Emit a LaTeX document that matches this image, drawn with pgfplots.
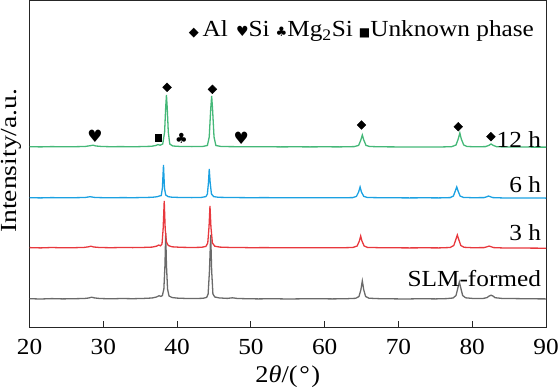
\documentclass[border=0pt]{standalone}
\usepackage{fontspec}
\setmainfont{Liberation Serif}[FakeStretch=1.1]
\newfontfamily\ylabfont{Liberation Serif}[FakeStretch=1.2]
\newfontfamily\symfont{DejaVu Sans}
\usepackage{pgfplots}
\pgfplotsset{compat=1.18}
\definecolor{cgreen}{HTML}{45B878}
\definecolor{cblue}{HTML}{1BA1E2}
\definecolor{cred}{HTML}{E8383D}
\definecolor{cgray}{HTML}{6A6A6A}
\newcommand{\lab}{\fontsize{23}{26}\selectfont}
\begin{document}
\begin{tikzpicture}
\begin{axis}[name=ax,
  width=516.4pt, height=326pt, scale only axis,
  xmin=20, xmax=90, ymin=0, ymax=326,
  xtick={20,30,...,90}, ytick=\empty,
  xtick pos=left, tick align=inside,
  major tick length=6pt,
  axis line style={black!85, line width=1pt},
  tick style={black!85, line width=1pt},
  /pgf/number format/assume math mode=true,
  ticklabel style={font=\lab},
  xticklabel style={yshift=-9pt},
  xlabel={2\textit{θ}/(\kern1.5pt°\kern1.5pt)},
  xlabel style={font=\fontsize{24}{26}\selectfont, at={(axis description cs:0.5,0)}, anchor=base, yshift=-55pt},
  ylabel={\ylabfont Intensity/a.u.},
  ylabel style={font=\lab, at={(axis description cs:-0.0252,0.51)}, anchor=base, inner sep=0pt},
  clip=false,
]
% SLM-formed
\addplot[cgray, line width=1.3pt] coordinates {
(20,28.3)(21.5,28.0)(23,28.4)(24.5,28.1)(26,28.3)(27.4,28.5)(28.0,29.0)(28.4,29.8)(28.8,29.1)(29.5,28.5)
(31,28.2)(32.5,28.5)(34,28.3)(35.5,28.6)(36.6,29.0)(37.2,30.0)(37.55,31.3)(37.8,30.6)(38.0,31.5)
(38.2,38)(38.35,62)(38.45,94)(38.55,62)(38.7,38)(38.9,31)(39.3,29.5)(40,28.9)(41,28.6)(42.5,28.5)
(43.5,28.7)(44.0,29.6)(44.2,33)(44.38,56)(44.55,92)(44.68,56)(44.85,33)(45.1,30.0)(45.7,29.1)(46.8,28.6)
(47.5,29.2)(48.2,28.5)(49.5,28.3)(51,28.1)(53,28.3)(55,28.0)(57,28.2)(59,28.3)(61,28.1)(63,28.3)
(64.2,28.7)(64.65,30.5)(64.9,37)(65.1,46)(65.3,37)(65.55,30.5)(66.0,28.8)(67.5,28.3)(69,28.2)(71,28.0)
(73,28.3)(75,28.1)(76.5,28.4)(77.4,29.0)(77.8,31.5)(78.05,39)(78.25,45)(78.45,39)(78.7,31.5)(79.1,29.2)
(80,28.6)(81.5,28.6)(82.0,29.4)(82.3,31)(82.55,31.8)(82.8,31)(83.1,29.3)(84,28.6)(86,28.4)(88,28.2)(90,28.1)
};
% 3 h
\addplot[cred, line width=1.3pt] coordinates {
(20,79.4)(21.5,79.1)(23,79.5)(24.5,79.2)(26,79.3)(27.4,79.6)(28.0,80.2)(28.3,80.8)(28.7,80.0)(29.5,79.5)
(31,79.3)(32.5,79.5)(34,79.4)(35.5,79.6)(36.6,79.9)(37.2,80.8)(37.5,82.0)(37.75,81.2)(37.95,83)
(38.1,98)(38.25,126)(38.38,98)(38.55,85)(38.8,81.5)(39.3,80.2)(40.5,79.7)(42,79.5)(43.3,79.7)(43.9,80.6)
(44.15,84)(44.32,100)(44.45,121)(44.58,100)(44.78,84)(45.1,80.8)(45.8,79.9)(47,79.6)(48.5,79.5)(50,79.3)
(52,79.4)(54,79.2)(56,79.3)(58,79.2)(60,79.3)(62,79.2)(63.8,79.5)(64.4,81.0)(64.7,86)(64.88,91)(65.05,86)
(65.35,81.0)(65.8,79.6)(67.5,79.3)(69.5,79.2)(71.5,79.1)(73.5,79.2)(75.5,79.1)(77.0,79.5)(77.5,81.5)
(77.8,88)(77.98,92)(78.15,88)(78.45,81.5)(78.9,79.7)(80,79.3)(81.6,79.4)(82.0,80.2)(82.28,80.9)(82.55,80.3)
(82.9,79.4)(84,79.1)(86,79.0)(88,78.9)(90,78.8)
};
% 6 h
\addplot[cblue, line width=1.3pt] coordinates {
(20,129.3)(21.5,129.1)(23,129.4)(24.5,129.2)(26,129.3)(27.5,129.5)(28.2,130.3)(28.8,129.6)(29.5,129.4)
(31,129.2)(32.5,129.4)(34,129.3)(35.5,129.5)(36.6,129.7)(37.3,130.3)(37.6,131.0)(37.85,131.5)(38.0,139)
(38.15,162)(38.28,139)(38.45,132)(38.8,130.3)(39.3,129.8)(40.5,129.5)(42,129.4)(43.3,129.6)(43.9,130.4)
(44.1,133)(44.25,145)(44.35,158)(44.47,145)(44.65,133)(44.95,130.4)(45.6,129.7)(47,129.5)(48.5,129.4)
(50,129.3)(52,129.4)(54,129.2)(56,129.3)(58,129.2)(60,129.3)(62,129.2)(63.8,129.4)(64.3,130.6)(64.6,135)
(64.8,140)(64.98,135)(65.3,130.6)(65.8,129.5)(67.5,129.3)(69.5,129.2)(71.5,129.1)(73.5,129.2)(75.5,129.1)
(77.0,129.4)(77.45,131)(77.7,136)(77.9,140)(78.08,136)(78.35,131)(78.8,129.6)(80,129.3)(81.6,129.4)
(82.0,130.3)(82.2,131)(82.45,130.3)(82.8,129.4)(84,129.1)(86,129.0)(88,129.0)(90,128.9)
};
% 12 h
\addplot[cgreen, line width=1.3pt] coordinates {
(20,180.3)(21.5,180.1)(23,180.4)(24.5,180.2)(26,180.3)(27.5,180.5)(28.2,181.3)(28.6,181.8)(29.0,181.0)
(29.8,180.5)(31,180.3)(32.5,180.4)(34,180.2)(35.5,180.5)(36.5,180.7)(37.1,181.5)(37.4,182.4)(37.7,181.8)
(38.05,183)(38.3,195)(38.45,220)(38.55,232)(38.65,220)(38.8,195)(39.0,183)(39.4,181.0)(40.5,180.5)
(42,180.4)(43.5,180.6)(44.1,181.5)(44.35,190)(44.55,218)(44.68,231)(44.8,218)(45.0,190)(45.25,181.5)
(45.9,180.6)(47,180.4)(48.5,180.3)(50,180.2)(52,180.3)(54,180.1)(56,180.2)(58,180.1)(60,180.2)(62,180.1)
(64.0,180.4)(64.6,181.6)(64.9,187)(65.1,192)(65.3,187)(65.6,181.6)(66.1,180.5)(67.5,180.2)(69.5,180.1)
(71.5,180.0)(73.5,180.1)(75.5,180.0)(77.2,180.3)(77.8,182)(78.1,188)(78.32,194)(78.52,188)(78.85,182)
(79.3,180.5)(80.5,180.2)(81.8,180.4)(82.25,181.6)(82.55,183)(82.85,181.6)(83.3,180.3)(84.5,180.0)
(86,180.0)(88,179.9)(90,179.9)
};
% phase markers
\addplot[only marks, mark=square*, mark options={rotate=45, fill=black, draw=black}, mark size=3.1pt]
 coordinates {(38.64,239.7)(44.78,237.7)(64.98,202)(78.1,200.3)(82.53,190.3)};
\addplot[only marks, mark=square*, mark options={fill=black, draw=black}, mark size=3.4pt]
 coordinates {(37.42,189.3)};
\addplot[only marks, mark=text, text mark={♥}, text mark as node=true,
  text mark style={font=\symfont\fontsize{17}{17}\selectfont, inner sep=0pt, anchor=center}]
 coordinates {(28.85,191)(48.7,188.7)};
\addplot[only marks, mark=text, text mark={♣}, text mark as node=true,
  text mark style={font=\symfont\fontsize{14}{14}\selectfont, inner sep=0pt, anchor=center}]
 coordinates {(40.58,188.7)};
% labels
\node[anchor=base east, inner sep=0pt, font=\lab] at (axis cs:89.35,180) {12 h};
\node[anchor=base east, inner sep=0pt, font=\lab] at (axis cs:89.35,135) {6 h};
\node[anchor=base east, inner sep=0pt, font=\lab] at (axis cs:89.35,87) {3 h};
\node[anchor=base east, inner sep=0pt, font=\lab] at (axis cs:89.35,41) {SLM-formed};
\node[anchor=base east, inner sep=0pt, font=\lab] at (axis cs:88.4,290)
 {{\symfont\fontsize{13}{13}\selectfont ◆}\,Al\hspace{8pt}{\symfont\fontsize{14}{14}\selectfont ♥}Si\hspace{6pt}{\symfont\fontsize{13}{13}\selectfont ♣}Mg\textsubscript{2}Si\hspace{6pt}{\symfont\fontsize{12}{12}\selectfont ■}Unknown phase};
\end{axis}
\pgfresetboundingbox
\useasboundingbox ([xshift=-29.6pt,yshift=-64pt]ax.south west) rectangle ([xshift=13pt,yshift=1pt]ax.north east);
\end{tikzpicture}
\end{document}
